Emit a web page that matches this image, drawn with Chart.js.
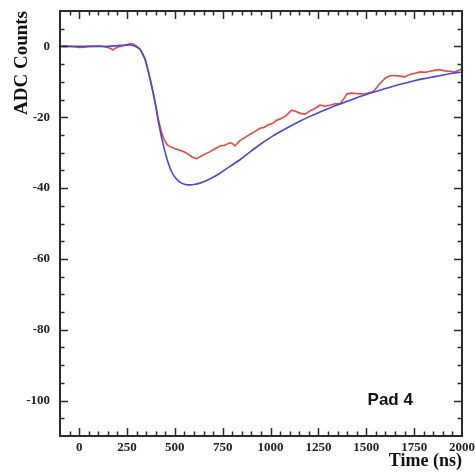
<!DOCTYPE html>
<html>
<head>
<meta charset="utf-8">
<script src="https://cdn.jsdelivr.net/npm/chart.js@4/dist/chart.umd.min.js"></script>
<style>
html,body{margin:0;padding:0;background:#fff;}
canvas{display:block;}
</style>
</head>
<body>
<canvas id="c" width="475" height="474"></canvas>
<script>
// ---- data ----
const redTime = [-100,-75,-50,-25,0,25,50,75,100,125,150,165,177,190,210,230,250,266,285,300,318,344,370,396,413,430,445,460,475,500,527,550,569,590,614,631,650,684,710,736,760,788,800,814,840,875,900,919,945,965,987,1010,1030,1058,1080,1110,1130,1155,1180,1206,1230,1258,1285,1310,1337,1363,1385,1398,1420,1445,1467,1500,1535,1555,1572,1600,1624,1650,1676,1700,1728,1755,1781,1810,1835,1860,1885,1910,1935,1960,1980,2000];
const redADC  = [0.1,0,0,-0.1,-0.3,-0.2,0,0,0.1,0,-0.3,-0.6,-1.0,-0.5,0,0.2,0.5,0.8,0.6,0.1,-0.8,-3.6,-9.0,-15.6,-20.3,-24.3,-26.4,-27.8,-28.3,-28.8,-29.3,-29.8,-30.4,-31.2,-31.7,-31.2,-30.6,-29.7,-28.9,-28.1,-27.9,-27.2,-27.4,-28.1,-26.6,-25.4,-24.6,-24.0,-23.1,-22.9,-22.2,-21.8,-20.9,-20.3,-19.6,-18.0,-18.3,-18.9,-19.1,-18.2,-17.6,-16.6,-16.9,-16.6,-16.2,-16.2,-14.6,-13.4,-13.2,-13.3,-13.4,-13.3,-12.8,-11.6,-10.4,-8.9,-8.3,-8.2,-8.4,-8.6,-7.9,-7.6,-7.2,-7.3,-7.0,-6.7,-6.6,-6.9,-7.0,-7.2,-6.8,-6.3];
const blueTime = [-100,0,100,150,200,240,270,295,318,344,370,396,413,430,445,466,485,505,527,550,575,600,631,680,736,790,840,890,945,1000,1050,1100,1150,1200,1250,1300,1350,1400,1450,1500,1550,1600,1650,1700,1750,1800,1850,1900,1950,2000];
const blueADC  = [0,0,0,0,0.2,0.4,0.4,0,-0.8,-3.5,-9.0,-15.6,-21.0,-25.5,-29.0,-33.0,-35.6,-37.2,-38.3,-38.9,-39.1,-39.0,-38.6,-37.5,-35.8,-33.8,-32.0,-29.9,-27.7,-25.7,-24.1,-22.6,-21.2,-19.9,-18.7,-17.6,-16.5,-15.5,-14.5,-13.6,-12.7,-11.9,-11.1,-10.4,-9.7,-9.1,-8.6,-8.1,-7.6,-7.2];
const xTickLabels = [0,250,500,750,1000,1250,1500,1750,2000];
const yTickLabels = [0,-20,-40,-60,-80,-100];
const xRange = [-100, 2000];
const yRange = [-110, 10];
const padLabel = {text: 'Pad 4', x: 1625, y: -100};

const serif = '"Liberation Serif", "DejaVu Serif", serif';

const frameTicks = {
  id: 'frameTicks',
  afterDraw(chart) {
    const {ctx, chartArea: a, scales: {x, y}} = chart;
    ctx.save();
    ctx.strokeStyle = '#2a2a2a';
    ctx.lineWidth = 1.5;
    ctx.beginPath();
    for (let v = -50; v < 2000; v += 50) {
      const px = Math.round(x.getPixelForValue(v)) + 0.5;
      const len = (v % 250 === 0) ? 8 : 4.5;
      ctx.moveTo(px, a.bottom); ctx.lineTo(px, a.bottom - len);
      ctx.moveTo(px, a.top); ctx.lineTo(px, a.top + len);
    }
    for (let v = -105; v <= 5; v += 5) {
      const py = Math.round(y.getPixelForValue(v)) + 0.5;
      const len = (v % 20 === 0) ? 8 : 4.5;
      ctx.moveTo(a.left, py); ctx.lineTo(a.left + len, py);
      ctx.moveTo(a.right, py); ctx.lineTo(a.right - len, py);
    }
    ctx.stroke();
    ctx.lineWidth = 2;
    ctx.strokeRect(a.left, a.top, a.right - a.left, a.bottom - a.top);
    // pad label
    ctx.fillStyle = '#111';
    ctx.font = 'bold 17px "Liberation Sans", Arial, sans-serif';
    ctx.textAlign = 'center';
    ctx.textBaseline = 'middle';
    ctx.fillText(padLabel.text, x.getPixelForValue(padLabel.x), y.getPixelForValue(padLabel.y));
    ctx.restore();
  }
};

new Chart(document.getElementById('c'), {
  type: 'line',
  data: {
    datasets: [
      {
        label: 'data',
        data: redTime.map((t, i) => ({x: t, y: redADC[i]})),
        borderColor: '#e8473e',
        borderWidth: 1.6,
        pointRadius: 0,
        tension: 0,
        order: 1
      },
      {
        label: 'fit',
        data: blueTime.map((t, i) => ({x: t, y: blueADC[i]})),
        borderColor: '#4848d8',
        borderWidth: 1.6,
        pointRadius: 0,
        tension: 0.3,
        order: 0
      }
    ]
  },
  options: {
    responsive: false,
    animation: false,
    devicePixelRatio: 1,
    layout: {padding: {top: 11, right: 13, left: 0, bottom: 0}},
    plugins: {legend: {display: false}, tooltip: {enabled: false}},
    scales: {
      x: {
        type: 'linear',
        min: xRange[0], max: xRange[1],
        afterBuildTicks(s) { s.ticks = xTickLabels.map(v => ({value: v})); },
        afterFit(s) { s.height = 38; s.paddingLeft = 0; s.paddingRight = 0; },
        grid: {display: false, drawTicks: false},
        border: {display: false},
        ticks: {
          padding: 4,
          color: '#222',
          maxRotation: 0,
          autoSkip: false,
          callback: v => String(v),
          font: {family: serif, weight: 'bold', size: 13}
        },
        title: {
          display: true,
          text: 'Time (ns)',
          align: 'end',
          color: '#111',
          padding: {top: 0, bottom: 2},
          font: {family: serif, weight: 'bold', size: 18}
        }
      },
      y: {
        type: 'linear',
        min: yRange[0], max: yRange[1],
        afterBuildTicks(s) { s.ticks = yTickLabels.map(v => ({value: v})); },
        afterFit(s) { s.width = 60; s.paddingTop = 0; s.paddingBottom = 0; },
        grid: {display: false, drawTicks: false},
        border: {display: false},
        ticks: {
          padding: 10,
          color: '#222',
          autoSkip: false,
          callback: v => String(v),
          font: {family: serif, weight: 'bold', size: 13}
        },
        title: {
          display: true,
          text: 'ADC Counts',
          align: 'end',
          color: '#111',
          padding: {top: 11, bottom: 0},
          font: {family: serif, weight: 'bold', size: 19}
        }
      }
    }
  },
  plugins: [frameTicks]
});
</script>
</body>
</html>
